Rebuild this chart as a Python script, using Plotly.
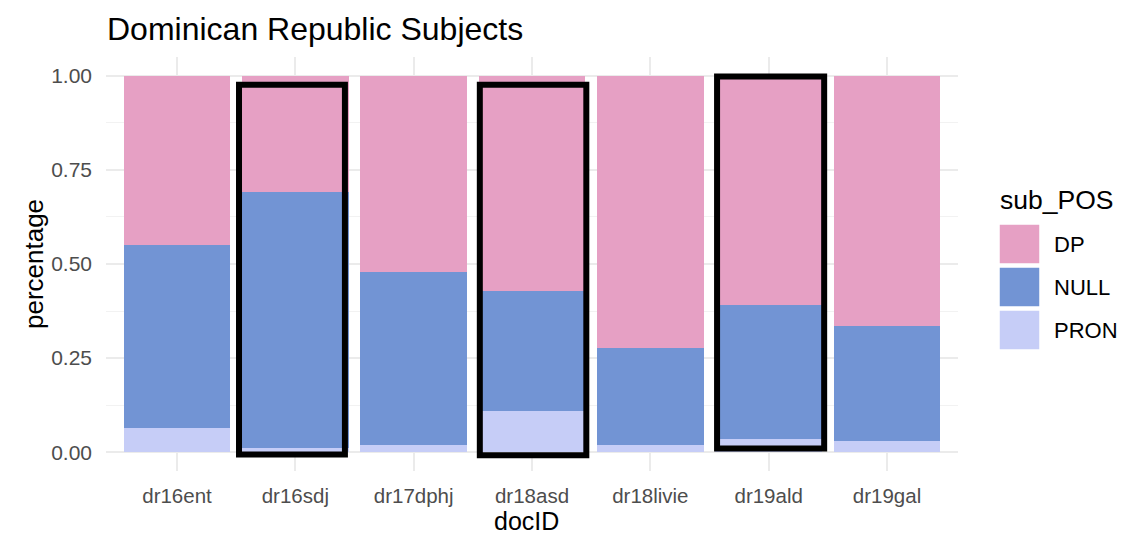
import plotly.graph_objects as go

# ---- data ----
doc_ids = ["dr16ent", "dr16sdj", "dr17dphj", "dr18asd", "dr18livie", "dr19ald", "dr19gal"]
pron = [0.063, 0.010, 0.020, 0.110, 0.020, 0.034, 0.030]
null = [0.487, 0.680, 0.459, 0.319, 0.258, 0.358, 0.304]
dp = [0.450, 0.310, 0.521, 0.571, 0.722, 0.608, 0.666]
series_names = ["DP", "NULL", "PRON"]
y_tick_vals = [0.0, 0.25, 0.5, 0.75, 1.0]
y_tick_text = ["0.00", "0.25", "0.50", "0.75", "1.00"]

# highlighted documents (hand-drawn boxes in the reference)
highlight_docs = ["dr16sdj", "dr18asd", "dr19ald"]

# ---- style ----
colors = {"DP": "#E6A0C4", "NULL": "#7294D4", "PRON": "#C6CDF7"}
FONT = "Liberation Sans, Arial, sans-serif"
W, H = 1136, 536
ML, MR, MT, MB = 106, 178, 57, 65
PW, PH = W - ML - MR, H - MT - MB

box_geom = {  # (left offset, right offset, bottom, top) in data units
    "dr16sdj": (-0.476, 0.419, -0.006, 0.976),
    "dr18asd": (-0.441, 0.459, -0.008, 0.976),
    "dr19ald": (-0.436, 0.469, 0.010, 0.998),
}

def px_x(p):
    return (p - ML) / PW

def px_y(p):
    return 1 - (p - MT) / PH

fig = go.Figure()
values = {"PRON": pron, "NULL": null, "DP": dp}
for name in ["PRON", "NULL", "DP"]:
    fig.add_trace(go.Bar(
        x=doc_ids, y=values[name], name=name,
        marker=dict(color=colors[name], line=dict(width=0)),
        showlegend=False,
        hovertemplate="%{x}<br>" + name + ": %{y:.3f}<extra></extra>",
    ))

shapes = []
for doc in highlight_docs:
    i = doc_ids.index(doc)
    lo, hi, b, t = box_geom[doc]
    shapes.append(dict(type="rect", xref="x", yref="y",
                       x0=i + lo, x1=i + hi, y0=b, y1=t,
                       line=dict(color="black", width=6),
                       fillcolor="rgba(0,0,0,0)", layer="above"))

annotations = []
# x-axis title
annotations.append(dict(text="docID", xref="paper", yref="paper",
                        x=px_x(526), y=px_y(521), xanchor="center", yanchor="middle",
                        showarrow=False, font=dict(family=FONT, size=25, color="black")))
# custom legend (ggplot style keys)
annotations.append(dict(text="sub_POS", xref="paper", yref="paper",
                        x=px_x(998), y=px_y(200), xanchor="left", yanchor="middle",
                        showarrow=False, font=dict(family=FONT, size=26.5, color="black")))
key_top = 224
for k, name in enumerate(series_names):
    y0 = key_top + k * 43
    shapes.append(dict(type="rect", xref="paper", yref="paper",
                       x0=px_x(999), x1=px_x(1040), y0=px_y(y0 + 40), y1=px_y(y0),
                       fillcolor=colors[name], line=dict(color="white", width=1.5),
                       layer="above"))
    annotations.append(dict(text=name, xref="paper", yref="paper",
                            x=px_x(1052), y=px_y(y0 + 20), xanchor="left", yanchor="middle",
                            showarrow=False, font=dict(family=FONT, size=22, color="black")))

fig.update_layout(
    width=W, height=H,
    barmode="stack", bargap=0.1,
    paper_bgcolor="white", plot_bgcolor="white",
    margin=dict(l=ML, r=MR, t=MT, b=MB, pad=0, autoexpand=False),
    font=dict(family=FONT),
    title=dict(text="Dominican Republic Subjects", x=107 / W, xanchor="left",
               xref="container", yref="container", y=1 - 28.5 / H, yanchor="middle",
               font=dict(family=FONT, size=32, color="black")),
    shapes=shapes, annotations=annotations,
    showlegend=False,
)
fig.update_xaxes(
    type="category", categoryorder="array", categoryarray=doc_ids,
    range=[-0.6, 6.6], showgrid=True, gridcolor="#EBEBEB", gridwidth=1.5,
    showline=False, zeroline=False, ticks="", ticklabelstandoff=10, automargin=False,
    tickfont=dict(family=FONT, size=20.5, color="#4D4D4D"),
)
fig.update_yaxes(
    range=[-0.05, 1.05], tickvals=y_tick_vals, ticktext=y_tick_text,
    showgrid=True, gridcolor="#EBEBEB", gridwidth=1.5,
    minor=dict(tickvals=[0.125, 0.375, 0.625, 0.875], showgrid=True,
               gridcolor="#F2F2F2", gridwidth=1),
    showline=False, zeroline=False, ticks="", ticklabelstandoff=13, automargin=False,
    tickfont=dict(family=FONT, size=21, color="#4D4D4D"),
    title=dict(text="percentage", font=dict(family=FONT, size=26, color="black"), standoff=0),
)

fig.write_html("out.html", config={"displayModeBar": False},
               post_script="document.body.style.margin='0';")
